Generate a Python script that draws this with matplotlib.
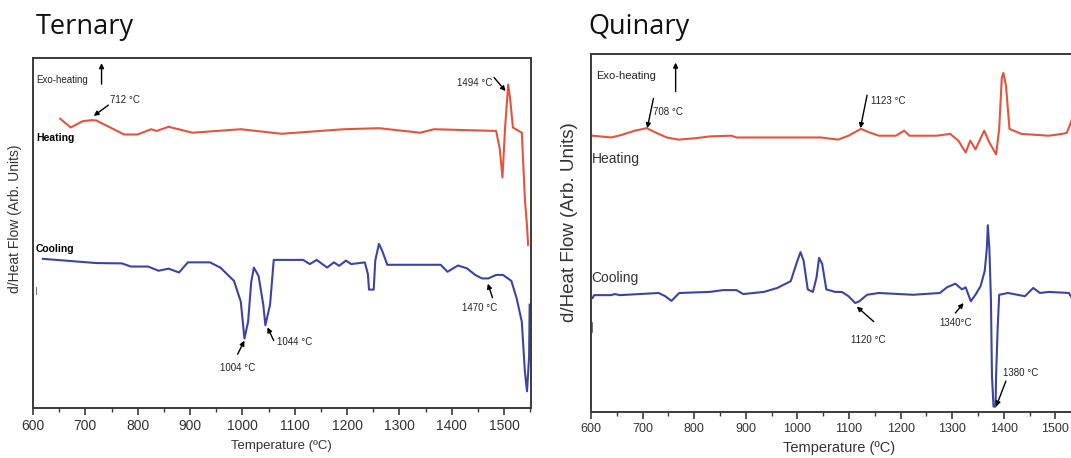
import matplotlib
matplotlib.use("Agg")
import matplotlib.pyplot as plt
from matplotlib.ticker import MultipleLocator

# ---- Ternary alloy: DTA traces (temperature in degC, signal in arbitrary units) ----
ternary_heat_T = [652, 672, 695, 712, 721, 774, 800, 826, 836, 859, 905, 997, 1075,
                  1194, 1261, 1340, 1366, 1485, 1492, 1497, 1502, 1508, 1512, 1517,
                  1534, 1540, 1544, 1546]
ternary_heat_y = [82.7, 80.2, 82.0, 82.3, 82.2, 78.2, 78.2, 79.7, 79.2, 80.4, 78.7,
                  79.7, 78.4, 79.7, 80.0, 78.7, 79.7, 79.2, 74.0, 65.9, 80.0, 92.5,
                  88.0, 80.2, 78.7, 59.5, 52.0, 46.6]

ternary_cool_T = [619, 721, 770, 787, 820, 840, 859, 879, 896, 938, 958, 984, 997,
                  1004, 1011, 1017, 1022, 1031, 1040, 1044, 1053, 1060, 1116, 1129,
                  1142, 1162, 1175, 1185, 1198, 1208, 1234, 1240, 1242, 1251, 1254,
                  1261, 1267, 1277, 1379, 1392, 1412, 1429, 1445, 1458, 1470, 1485,
                  1498, 1514, 1524, 1534, 1540, 1544, 1548, 1549]
ternary_cool_y = [42.6, 41.4, 41.3, 40.4, 40.4, 39.2, 39.8, 38.7, 41.6, 41.6, 40.1,
                  36.3, 30.4, 19.8, 24.6, 36.0, 40.1, 37.7, 29.5, 23.6, 29.5, 42.3,
                  42.3, 41.1, 42.3, 40.1, 41.6, 40.6, 42.1, 41.1, 41.6, 38.2, 33.8,
                  33.8, 42.1, 46.9, 45.0, 40.9, 40.9, 38.9, 40.7, 39.9, 38.0, 37.0,
                  37.0, 38.0, 38.0, 36.3, 31.4, 24.6, 10.1, 4.7, 14.9, 29.5]

# ---- Quinary alloy ----
quinary_heat_T = [603, 639, 659, 685, 708, 728, 747, 770, 803, 830, 872, 882, 1046,
                  1079, 1099, 1123, 1138, 1158, 1191, 1207, 1217, 1270, 1296, 1312,
                  1326, 1335, 1345, 1362, 1372, 1385, 1391, 1396, 1399, 1404, 1411,
                  1434, 1487, 1513, 1522, 1528, 1538]
quinary_heat_y = [77.2, 76.7, 77.4, 78.6, 79.3, 77.9, 76.7, 76.1, 76.5, 77.0, 77.2,
                  76.7, 76.7, 76.1, 77.2, 79.1, 78.2, 77.2, 77.2, 78.6, 77.2, 77.2,
                  77.7, 75.8, 72.5, 75.8, 73.4, 78.6, 75.3, 72.0, 79.1, 93.3, 94.7,
                  91.4, 79.1, 77.7, 77.2, 77.7, 78.0, 80.2, 84.4]

quinary_cool_T = [603, 606, 639, 646, 656, 731, 744, 756, 771, 830, 856, 882, 895,
                  935, 961, 987, 1000, 1006, 1012, 1020, 1030, 1037, 1042, 1048,
                  1056, 1073, 1086, 1099, 1112, 1120, 1135, 1158, 1224, 1276, 1290,
                  1306, 1319, 1326, 1336, 1345, 1355, 1363, 1367, 1369, 1372, 1375,
                  1377, 1380, 1384, 1385, 1388, 1391, 1408, 1441, 1457, 1470, 1487,
                  1526, 1532, 1544]
quinary_cool_y = [31.9, 32.7, 32.7, 33.0, 32.7, 33.3, 32.4, 31.1, 33.3, 33.6, 34.1,
                  34.1, 33.0, 33.6, 34.7, 36.6, 42.3, 44.7, 42.3, 34.3, 33.6, 37.6,
                  43.1, 41.4, 34.3, 33.6, 33.6, 32.4, 30.5, 31.0, 32.8, 33.3, 32.8,
                  33.3, 34.9, 35.9, 34.3, 34.9, 31.0, 32.8, 35.2, 39.5, 45.6, 52.2,
                  45.6, 31.4, 10.2, 1.6, 1.6, 10.2, 23.4, 32.8, 33.3, 32.4, 34.7,
                  33.3, 33.6, 33.3, 31.9, 28.5]

x_ticks = [600, 700, 800, 900, 1000, 1100, 1200, 1300, 1400, 1500]

RED = "#e5533c"
BLUE = "#3b44a6"
SPINE = "#3a3a3a"

plt.rcParams["font.family"] = ["Liberation Sans", "DejaVu Sans"]

W, H = 1071, 458
fig = plt.figure(figsize=(W / 100, H / 100), dpi=100)


def px_axes(x0, x1, ytop, ybot):
    return fig.add_axes([x0 / W, 1 - ybot / H, (x1 - x0) / W, (ybot - ytop) / H])


ax1 = px_axes(33, 530.7, 58.3, 407.7)
ax2 = px_axes(591, 1086.4, 54, 412.3)


def style(ax, xmax, tick_fs):
    ax.set_xlim(600, xmax)
    ax.set_ylim(0, 100)
    ax.set_yticks([])
    ax.set_xticks(x_ticks)
    ax.xaxis.set_minor_locator(MultipleLocator(50))
    ax.tick_params(axis="x", which="major", direction="out", length=5, width=1.2,
                   color=SPINE, labelsize=tick_fs, labelcolor="#333333", pad=3)
    ax.tick_params(axis="x", which="minor", direction="out", length=3, width=1.0,
                   color=SPINE)
    for s in ax.spines.values():
        s.set_color(SPINE)
        s.set_linewidth(1.4)


style(ax1, 1551, 10)
style(ax2, 1560, 9)

# traces
ax1.plot(ternary_heat_T, ternary_heat_y, color=RED, lw=1.5)
ax1.plot(ternary_cool_T, ternary_cool_y, color=BLUE, lw=1.5)
ax2.plot(quinary_heat_T, quinary_heat_y, color=RED, lw=1.5)
ax2.plot(quinary_cool_T, quinary_cool_y, color=BLUE, lw=1.5)

arrow = dict(arrowstyle="-|>", color="black", lw=1.0, mutation_scale=7,
             shrinkA=0, shrinkB=0)


def mark(ax, text, tx, ty, a0, a1, fs=7, ha="left"):
    ax.text(tx, ty, text, fontsize=fs, ha=ha, va="center", color="#222222")
    ax.annotate("", xy=a1, xytext=a0, arrowprops=arrow)


# ---- Ternary annotations ----
ax1.text(605.7, 93.8, "Exo-heating", fontsize=7, va="center", color="#222222")
ax1.annotate("", xy=(731, 98.6), xytext=(731, 92.6), arrowprops=arrow)
mark(ax1, "712 °C", 747, 88.1, (744, 86.6), (716, 83.5))
mark(ax1, "1494 °C", 1477, 93.0, (1481, 94.5), (1503, 90.6), ha="right")
ax1.text(605.7, 77.2, "Heating", fontsize=7.5, fontweight="bold", va="center")
ax1.text(605.7, 45.5, "Cooling", fontsize=7.5, fontweight="bold", va="center")
mark(ax1, "1004 °C", 991, 11.4, (991, 15.3), (1004, 19.2), ha="center")
mark(ax1, "1044 °C", 1066, 18.8, (1060, 19.2), (1048, 23.0))
mark(ax1, "1470 °C", 1453, 28.6, (1478, 31.5), (1469, 35.5), ha="center")
ax1.plot([606, 606], [32.5, 34.5], color="#777777", lw=0.8)

# ---- Quinary annotations ----
ax2.text(609.7, 93.8, "Exo-heating", fontsize=8, va="center", color="#222222")
ax2.annotate("", xy=(764, 97.6), xytext=(764, 89.5), arrowprops=arrow)
mark(ax2, "708 °C", 721, 83.8, (721, 87.6), (709, 79.3))
mark(ax2, "1123 °C", 1142, 86.9, (1135, 88.5), (1122, 79.3))
ax2.text(601, 70.6, "Heating", fontsize=10, va="center", color="#333333")
ax2.text(601, 37.6, "Cooling", fontsize=10, va="center", color="#333333")
mark(ax2, "1120 °C", 1137, 20.1, (1148, 25.3), (1115, 29.5), ha="center")
mark(ax2, "1340°C", 1307, 24.8, (1306, 27.7), (1322, 30.5), ha="center")
mark(ax2, "1380 °C", 1398, 11.1, (1404, 8.7), (1385, 1.6))
ax2.plot([602, 602], [22.5, 24.8], color="#555555", lw=1.2)

# ---- axis labels and titles ----
ax1.set_xlabel("Temperature (ºC)", fontsize=9.5, color="#333333", labelpad=5)
ax2.set_xlabel("Temperature (ºC)", fontsize=10.5, color="#333333", labelpad=4)
fig.text(15 / W, 1 - 219 / H, "d/Heat Flow (Arb. Units)", rotation=90,
         fontsize=10, color="#333333", ha="center", va="center")
fig.text(570 / W, 1 - 222 / H, "d/Heat Flow (Arb. Units)", rotation=90,
         fontsize=13.5, color="#333333", ha="center", va="center")

fig.text(36 / W, 1 - 27 / H, "Ternary", fontsize=19.5, family="Open Sans",
         ha="left", va="center", color="#111111")
fig.text(588 / W, 1 - 27 / H, "Quinary", fontsize=19.5, family="Open Sans",
         ha="left", va="center", color="#111111")

fig.savefig("out.png", dpi=100)
